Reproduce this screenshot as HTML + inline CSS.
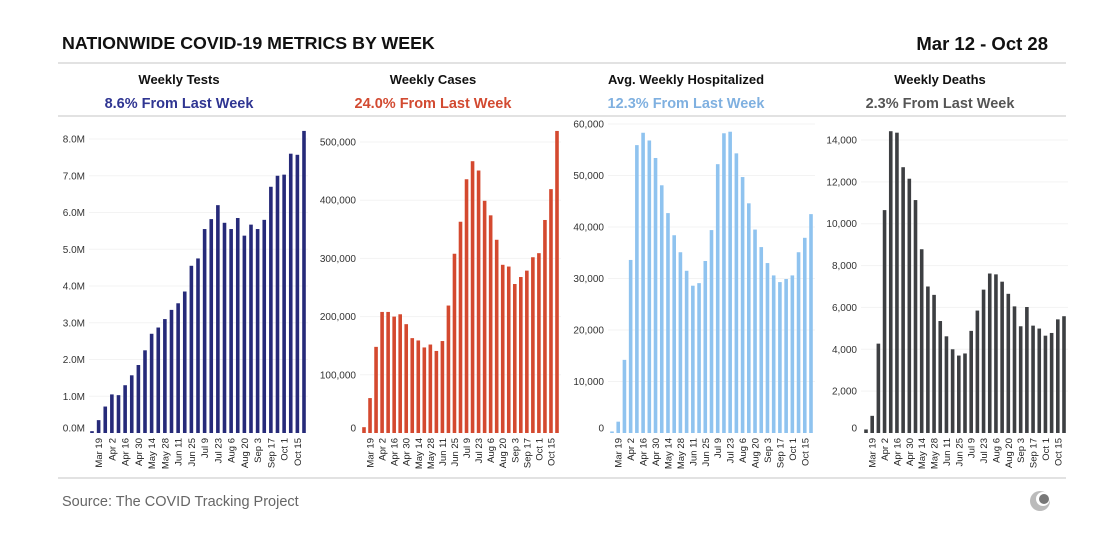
<!DOCTYPE html>
<html><head><meta charset="utf-8">
<style>
body{margin:0;background:#fff;font-family:"Liberation Sans",sans-serif;}
svg text{font-family:"Liberation Sans",sans-serif;}
</style></head>
<body>
<svg id="c" width="1117" height="539" viewBox="0 0 1117 539">
<text x="62" y="49" font-size="17.8" font-weight="bold" fill="#111">NATIONWIDE COVID-19 METRICS BY WEEK</text>
<text x="1048" y="50" font-size="18.5" font-weight="bold" fill="#111" text-anchor="end">Mar 12 - Oct 28</text>
<line x1="58" y1="63" x2="1066" y2="63" stroke="#d8d8d8" stroke-width="1.5"/>
<line x1="58" y1="116" x2="1066" y2="116" stroke="#d8d8d8" stroke-width="1.5"/>
<line x1="58" y1="478" x2="1066" y2="478" stroke="#d8d8d8" stroke-width="1.5"/>
<text x="62" y="506" font-size="14.5" fill="#666">Source: The COVID Tracking Project</text>
<g>
<circle cx="1040" cy="501" r="10" fill="#bbb"/>
<circle cx="1043" cy="499" r="7" fill="#fff"/>
<circle cx="1044" cy="499" r="5" fill="#777"/>
</g>
<g id="panels"></g>
</svg>
<script>
const dates = ["Mar 12","Mar 19","Mar 26","Apr 2","Apr 9","Apr 16","Apr 23","Apr 30","May 7","May 14","May 21","May 28","Jun 4","Jun 11","Jun 18","Jun 25","Jul 2","Jul 9","Jul 16","Jul 23","Jul 30","Aug 6","Aug 13","Aug 20","Aug 27","Sep 3","Sep 10","Sep 17","Sep 24","Oct 1","Oct 8","Oct 15","Oct 22"];
const tests = [0.05,0.35,0.72,1.05,1.03,1.3,1.57,1.85,2.25,2.7,2.87,3.1,3.35,3.53,3.85,4.55,4.75,5.55,5.82,6.2,5.72,5.55,5.85,5.37,5.67,5.55,5.8,6.7,7.0,7.03,7.6,7.57,8.22];
const cases = [10,60,148,208,208,200,204,187,163,159,147,152,141,158,219,308,363,436,467,451,399,374,332,289,286,256,268,279,302,309,366,419,519];
const hosp = [0.3,2.2,14.2,33.6,55.9,58.3,56.8,53.4,48.1,42.7,38.4,35.1,31.5,28.6,29.1,33.4,39.4,52.2,58.2,58.5,54.3,49.7,44.6,39.5,36.1,33.0,30.6,29.3,29.9,30.6,35.1,37.9,42.5];
const deaths = [170,820,4270,10650,14420,14350,12700,12150,11130,8780,7000,6600,5350,4620,4000,3700,3800,4880,5850,6850,7620,7580,7230,6650,6050,5100,6020,5130,4990,4650,4780,5430,5580];
const testTicks = [0,1,2,3,4,5,6,7,8];
const testTickLabels = ["0.0M","1.0M","2.0M","3.0M","4.0M","5.0M","6.0M","7.0M","8.0M"];
const caseTicks = [0,100,200,300,400,500];
const caseTickLabels = ["0","100,000","200,000","300,000","400,000","500,000"];
const hospTicks = [0,10,20,30,40,50,60];
const hospTickLabels = ["0","10,000","20,000","30,000","40,000","50,000","60,000"];
const deathTicks = [0,2000,4000,6000,8000,10000,12000,14000];
const deathTickLabels = ["0","2,000","4,000","6,000","8,000","10,000","12,000","14,000"];

const NS="http://www.w3.org/2000/svg";
const root=document.getElementById('panels');
function mk(tag,attrs,parent){const e=document.createElementNS(NS,tag);for(const k in attrs)e.setAttribute(k,attrs[k]);parent.appendChild(e);return e;}
const panels=[
 {key:"tests",title:"Weekly Tests",sub:"8.6% From Last Week",subColor:"#2f3592",color:"#262a79",data:tests,ticks:testTicks,labels:testTickLabels,max:8,maxY:139,cx:179,labelRight:85,x0:92,x1:304},
 {key:"cases",title:"Weekly Cases",sub:"24.0% From Last Week",subColor:"#d24a31",color:"#d4492f",data:cases,ticks:caseTicks,labels:caseTickLabels,max:500,maxY:142,cx:433,labelRight:356,x0:364,x1:557},
 {key:"hospitalized",title:"Avg. Weekly Hospitalized",sub:"12.3% From Last Week",subColor:"#7fb0e0",color:"#8fc3ef",data:hosp,ticks:hospTicks,labels:hospTickLabels,max:60,maxY:124,cx:686,labelRight:604,x0:612,x1:811},
 {key:"deaths",title:"Weekly Deaths",sub:"2.3% From Last Week",subColor:"#555",color:"#3d3f42",data:deaths,ticks:deathTicks,labels:deathTickLabels,max:14000,maxY:140,cx:940,labelRight:857,x0:866,x1:1064}
];
const base=433;
panels.forEach(p=>{
 const g=mk('g',{},root);
 
 
 const t=mk('text',{x:p.cx,y:84,'font-size':13,'font-weight':'bold','text-anchor':'middle',fill:'#111'},g);t.textContent=p.title;
 
 
 const s=mk('text',{x:p.cx,y:108,'font-size':14.5,'font-weight':'bold','text-anchor':'middle',fill:p.subColor},g);s.textContent=p.sub;
 
 
 const y=v=>base-(v/p.max)*(base-p.maxY);
 const step=(p.x1-p.x0)/(p.data.length-1);
 const x=i=>p.x0+i*step;
 p.ticks.forEach((tv,i)=>{
  const ty=y(tv);
  if(tv>0){const gl=mk('line',{x1:p.labelRight+4,x2:p.x1+4,y1:ty,y2:ty,stroke:'#f3f3f3','stroke-width':1},g);
   
   }
  const ly = tv>0 ? ty+3.5 : ty-1.5;
  const lt=mk('text',{x:p.labelRight,y:ly,'font-size':10,'text-anchor':'end',fill:'#333'},g);lt.textContent=p.labels[i];
  
  
 });
 p.data.forEach((v,i)=>{
  const r=mk('rect',{x:x(i)-1.8,y:y(v),width:3.6,height:base-y(v),fill:p.color},g);
  
  
 });
 dates.forEach((d,i)=>{
  if(i%2!==1)return;
  const tx=x(i)+3.5, ty=438;
  const lt=mk('text',{x:tx,y:ty,'font-size':9.5,'text-anchor':'end',fill:'#222',transform:`rotate(-90 ${tx} ${ty})`},g);lt.textContent=d;
  
  
 });
});
</script>
</body></html>
